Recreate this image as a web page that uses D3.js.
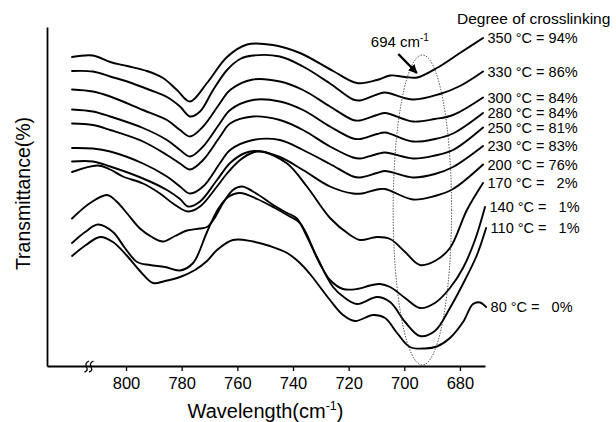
<!DOCTYPE html>
<html>
<head>
<meta charset="utf-8">
<script src="https://cdn.jsdelivr.net/npm/d3@7/dist/d3.min.js"></script>
<style>
  html, body { margin: 0; padding: 0; background: #fff; }
  svg text { font-family: Arial, "Liberation Sans", Helvetica, sans-serif; fill: #000; }
</style>
</head>
<body>
<svg id="chart" width="616" height="422"></svg>
<script>
// FTIR transmittance spectra (arbitrary offset units) vs. wavenumber, one trace per cure temperature.
const temperatures = [350, 330, 300, 280, 250, 230, 200, 170, 140, 110, 80];
const crosslinking = [94, 86, 84, 84, 81, 83, 76, 2, 1, 1, 0];
const xTicks = [800, 780, 760, 740, 720, 700, 680];
const bandCenter = 694;           // cm-1, the monitored band
const bandWindow = [704, 683];    // cm-1 span circled by the dotted ellipse

const t350 = [[819.4,309],[811.9,310.5],[805.7,304],[799.6,300],[792.5,295],[786.7,288],[781.7,276],[777.0,264.5],[770.9,283],[763.7,309],[756.5,321.5],[747.2,321],[737.5,313],[725.6,295],[717.0,283],[709.8,286],[705.1,290.5],[699.7,289],[695.4,288.5],[688.3,298],[680.0,313],[671.7,328]];
const t330 = [[819.4,295],[811.9,294.5],[805.7,289.5],[799.6,284.5],[791.4,276],[785.3,269],[780.6,259.5],[777.0,249.5],[773.4,254.5],[768.7,276],[763.7,296],[759.0,307],[754.4,310.5],[744.7,309.5],[736.4,299.5],[726.7,282.5],[718.4,266.5],[715.9,265.5],[709.8,271.5],[706.9,273.5],[696.9,266.5],[687.2,272],[680.0,280],[671.7,294.5]];
const t300 = [[819.4,276.5],[811.9,274.5],[805.7,269.5],[793.9,256],[785.3,246],[780.6,236],[777.0,229.5],[772.3,239.5],[766.2,263],[762.6,276],[754.4,286.5],[744.7,284.5],[736.4,276],[726.7,259.5],[718.4,246],[715.9,245.5],[709.8,251],[706.9,253],[696.9,244.5],[689.0,247],[682.5,251],[671.7,268.5]];
const t280 = [[819.4,256.5],[811.9,254.5],[805.7,249.5],[793.9,238],[785.3,226],[780.6,216],[777.0,209.5],[772.3,219.5],[766.2,243],[762.6,256],[754.4,266],[744.7,264.5],[736.4,256],[726.7,239.5],[718.4,227.5],[715.9,227],[709.8,232],[706.9,233.5],[696.9,224.5],[689.0,227],[682.5,232.5],[671.7,253]];
const t250 = [[819.4,242.5],[811.9,241],[805.7,236],[793.9,224.5],[785.3,211],[780.6,202.5],[777.0,196.5],[772.3,206],[766.2,229.5],[762.6,242.5],[754.4,249.5],[744.7,246],[736.4,236],[726.7,219.5],[718.4,208.5],[715.9,207.5],[709.8,212],[706.9,213.5],[696.9,207.5],[689.0,210.5],[682.5,216],[671.7,238.5]];
const t230 = [[819.4,218],[811.9,217.5],[805.7,214.5],[793.9,202.5],[785.3,189.5],[780.6,179.5],[777.0,172.5],[772.3,179.5],[766.2,203],[762.6,216],[754.4,226],[744.7,226],[736.4,216],[726.7,202],[718.4,189.5],[715.9,188.5],[709.8,193],[706.9,195],[696.9,188.5],[689.0,192],[682.5,199],[671.7,220]];
const t200 = [[819.4,204.5],[811.9,204.5],[805.7,199.5],[793.9,187.5],[785.3,176],[780.6,167],[777.7,159.5],[773.4,164.5],[767.3,186],[762.6,203],[757.2,213],[753.6,215],[744.7,209],[736.4,196],[726.7,179.5],[718.4,172.5],[715.2,172.5],[709.8,176.5],[706.9,177],[696.9,166.5],[689.0,170],[682.5,177],[671.7,201.5]];
const t170 = [[819.4,194],[810.1,200.5],[805.7,196.5],[801.1,189.5],[793.9,182.5],[787.8,172.5],[783.1,162.5],[777.7,154.5],[773.4,159.5],[767.3,179.5],[763.7,192.5],[759.0,206],[754.4,213.5],[751.1,214.5],[742.1,202.5],[735.0,179.5],[726.7,148],[719.5,131],[715.9,126],[709.8,129],[705.1,127],[699.7,114],[694.4,101],[689.0,105],[683.6,118],[677.5,156],[671.7,183]];
const t140 = [[819.4,147.5],[812.9,163],[806.8,171],[803.2,164],[799.6,152.5],[795.0,137.5],[790.7,129],[786.7,124.5],[782.4,130],[778.1,135.5],[773.4,137.5],[770.9,139],[768.4,147],[765.1,163],[761.6,176],[758.3,179.5],[752.9,172],[746.5,160],[742.1,153],[738.6,147.5],[735.0,129.5],[730.3,102],[726.7,86],[722.0,77],[717.0,77],[712.3,80.5],[708.7,82],[705.1,79],[699.7,68],[694.4,58],[689.0,63],[683.6,78],[678.9,98],[674.6,126],[671.0,159]];
const t110 = [[819.4,123],[814.7,134],[810.1,141.5],[804.7,134],[800.4,118],[796.0,104],[791.4,101],[786.0,99],[780.6,95.5],[775.9,103],[770.9,134],[766.9,157],[763.3,169],[759.0,173],[752.9,167],[746.5,158],[742.1,151],[737.5,143],[731.4,109],[725.6,79],[721.3,68],[717.0,62],[709.8,69],[705.1,64],[699.7,44],[694.4,30],[689.0,35],[683.6,58],[678.2,86],[673.9,111],[670.6,138]];
const t80 = [[819.4,110],[814.4,121],[809.3,129],[804.7,124],[799.6,110],[795.0,95],[790.3,83],[786.0,85],[780.6,89],[775.2,96],[770.9,105],[767.3,116],[761.6,126],[754.4,124.5],[748.3,120],[742.1,113],[737.5,103],[733.9,92],[726.7,66],[722.0,51],[717.7,45],[711.2,51],[706.9,48],[702.6,33],[698.0,19],[692.6,17.5],[688.3,19.5],[683.6,28],[678.9,44],[675.3,62],[672.8,63.5],[670.6,59]];

const spectra = [t350, t330, t300, t280, t250, t230, t200, t170, t140, t110, t80];

const svg = d3.select("#chart");

const x = d3.scaleLinear().domain([828.4, 671]).range([47, 485]);
const y = d3.scaleLinear().domain([0, 339]).range([366, 27]);

// axes
const xAxis = d3.axisBottom(x)
  .tickValues(xTicks)
  .tickFormat(d3.format("d"))
  .tickSize(5)
  .tickSizeOuter(0)
  .tickPadding(6);

const gx = svg.append("g")
  .attr("transform", `translate(0,${y(0)})`)
  .call(xAxis);
gx.attr("font-size", null).attr("font-family", null);
gx.select(".domain").attr("stroke", "#000").attr("stroke-width", 1.8);
gx.selectAll(".tick line").attr("stroke", "#000").attr("stroke-width", 1.3);
gx.selectAll(".tick text").style("font-size", "16.5px");

const yAxis = d3.axisLeft(y).tickValues([]).tickSizeOuter(0);
const gy = svg.append("g")
  .attr("transform", `translate(${x(828.4)},0)`)
  .call(yAxis);
gy.select(".domain").attr("stroke", "#000").attr("stroke-width", 1.8);

// axis break mark on the wavenumber axis
const brk = svg.append("g").attr("fill", "none").attr("stroke", "#000").attr("stroke-width", 1.3);
[0, 4.5].forEach(off => {
  const bx = 84.5 + off, by = y(0);
  brk.append("path")
    .attr("d", `M${bx},${by + 6} q4,-1 2,-5 q-2,-4 2.5,-6`);
});

// spectra
const line = d3.line()
  .x(d => x(d[0]))
  .y(d => y(d[1]))
  .curve(d3.curveCatmullRom.alpha(0.5));

svg.append("g")
  .selectAll("path")
  .data(spectra)
  .join("path")
  .attr("d", line)
  .attr("fill", "none")
  .attr("stroke", "#000")
  .attr("stroke-width", 1.9)
  .attr("stroke-linejoin", "round")
  .attr("stroke-linecap", "round");

// end-of-trace labels
const labels = svg.append("g").style("font-size", "14.5px");
spectra.forEach((s, i) => {
  const end = s[s.length - 1];
  const c = crosslinking[i];
  const pad = c < 10 ? "  " : "";
  labels.append("text")
    .attr("xml:space", "preserve")
    .style("white-space", "pre")
    .attr("x", x(end[0]) + 4.5)
    .attr("y", y(end[1]))
    .attr("dominant-baseline", "central")
    .text(`${temperatures[i]} °C = ${pad}${c}%`);
});

svg.append("text")
  .attr("x", 457)
  .attr("y", 23.5)
  .style("font-size", "15.5px")
  .text("Degree of crosslinking");

// dotted ellipse around the monitored band
const ex0 = x(bandWindow[0]), ex1 = x(bandWindow[1]);
svg.append("ellipse")
  .attr("cx", (ex0 + ex1) / 2)
  .attr("cy", y(156))
  .attr("rx", (ex1 - ex0) / 2)
  .attr("ry", y(1) - y(156))
  .attr("fill", "none")
  .attr("stroke", "#333")
  .attr("stroke-width", 1)
  .attr("stroke-dasharray", "1.3,1.5");

// arrow and band label
svg.append("defs").append("marker")
  .attr("id", "head")
  .attr("viewBox", "0 0 10 10")
  .attr("refX", 9).attr("refY", 5)
  .attr("markerWidth", 9).attr("markerHeight", 9)
  .attr("markerUnits", "userSpaceOnUse")
  .attr("orient", "auto")
  .append("path").attr("d", "M0,0 L10,5 L0,10 z").attr("fill", "#000");

const tipX = x(bandCenter + 1.5), tipY = y(293);
svg.append("line")
  .attr("x1", tipX - 18.5).attr("y1", tipY - 19)
  .attr("x2", tipX).attr("y2", tipY)
  .attr("stroke", "#000").attr("stroke-width", 2.4)
  .attr("marker-end", "url(#head)");

const bl = svg.append("text")
  .attr("x", tipX - 46)
  .attr("y", tipY - 26.5)
  .style("font-size", "15px");
bl.append("tspan").text(`${bandCenter} cm`);
bl.append("tspan").attr("dy", -6).style("font-size", "10px").text("-1");

// axis titles
const xt = svg.append("text")
  .attr("x", 265.5)
  .attr("y", 418)
  .attr("text-anchor", "middle")
  .style("font-size", "20px");
xt.append("tspan").text("Wavelength(cm");
xt.append("tspan").attr("dy", -8).style("font-size", "12.5px").text("-1");
xt.append("tspan").attr("dy", 8).text(")");

svg.append("text")
  .attr("transform", "translate(30,193.5) rotate(-90)")
  .attr("text-anchor", "middle")
  .style("font-size", "19.5px")
  .text("Transmittance(%)");
</script>
</body>
</html>
